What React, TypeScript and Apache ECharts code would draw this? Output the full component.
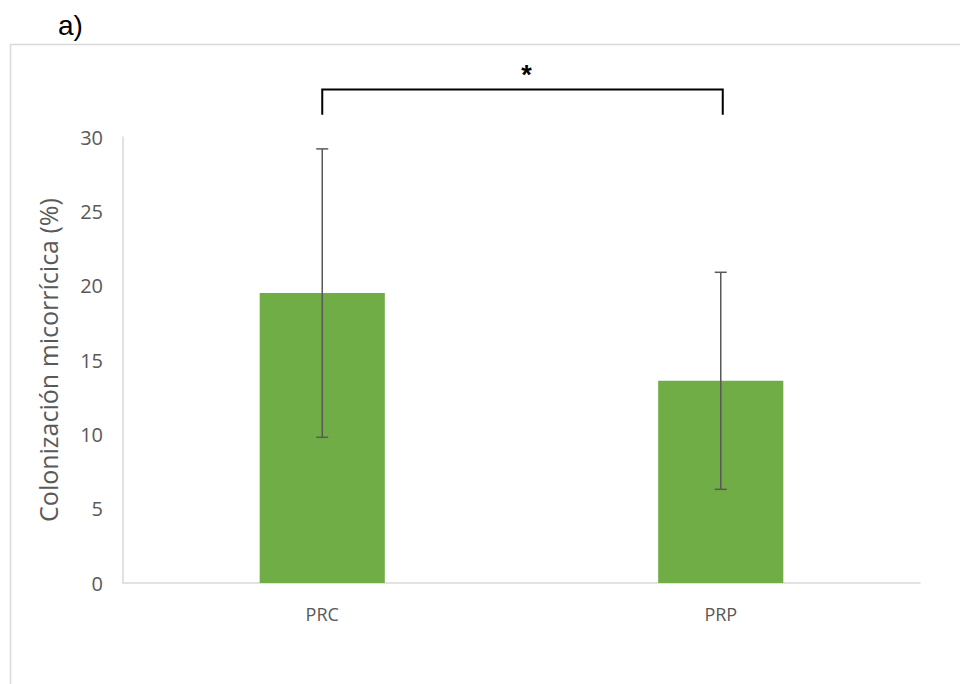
import React, { useEffect, useRef } from "react";
import * as echarts from "echarts";

const categories = ["PRC", "PRP"];
const means = [19.5, 13.6];
const errors = [9.7, 7.3];
const yTicks = { min: 0, max: 30, interval: 5 };
const bracketValues = { legBottom: 31.5, top: 33.2 };
const significance = "*";
const panelLabel = "a)";
const yTitle = "Colonización micorrícica (%)";

export default function App() {
  const ref = useRef<HTMLDivElement>(null);
  useEffect(() => {
    if (!ref.current) return;
    const chart = echarts.init(ref.current, undefined, { renderer: "svg" });
    const font = "'Open Sans', 'Noto Sans', sans-serif";
    chart.setOption({
      animation: false,
      backgroundColor: "#ffffff",
      grid: { left: 123, right: 40, top: 137, bottom: 101, containLabel: false },
      xAxis: {
        type: "category",
        data: categories,
        axisLine: { lineStyle: { color: "#d9d9d9", width: 1.5 } },
        axisTick: { show: false },
        axisLabel: { color: "#595959", fontSize: 18, fontFamily: font, margin: 22 },
      },
      yAxis: {
        type: "value",
        min: yTicks.min,
        max: yTicks.max,
        interval: yTicks.interval,
        axisLine: { show: true, lineStyle: { color: "#d9d9d9", width: 1.5 } },
        axisTick: { show: false },
        splitLine: { show: false },
        axisLabel: { color: "#595959", fontSize: 20, fontFamily: font, margin: 20 },
        name: yTitle,
        nameLocation: "middle",
        nameGap: 63,
        nameTextStyle: { color: "#595959", fontSize: 25, fontFamily: font },
      },
      graphic: [
        {
          type: "rect",
          shape: { x: 10.5, y: 44.5, width: 1000, height: 700 },
          style: { fill: "none", stroke: "#d9d9d9", lineWidth: 1.5 },
          z: -1,
        },
        {
          type: "text",
          x: 58,
          y: 11,
          style: { text: panelLabel, fontSize: 28, fontFamily: "'Liberation Sans', Arial, sans-serif", fill: "#000000" },
        },
      ],
      series: [
        {
          type: "bar",
          data: means,
          barWidth: "31.4%",
          itemStyle: { color: "#70ad47" },
        },
        {
          type: "custom",
          data: means.map((m, i) => [i, m - errors[i], m + errors[i]]),
          encode: { x: 0, y: [1, 2] },
          renderItem: (params: any, api: any) => {
            const x = api.value(0);
            const lo = api.coord([x, api.value(1)]);
            const hi = api.coord([x, api.value(2)]);
            const hw = 6;
            const style = { stroke: "#595959", lineWidth: 1.5 };
            return {
              type: "group",
              children: [
                { type: "line", shape: { x1: lo[0], y1: lo[1], x2: hi[0], y2: hi[1] }, style },
                { type: "line", shape: { x1: lo[0] - hw, y1: lo[1], x2: lo[0] + hw, y2: lo[1] }, style },
                { type: "line", shape: { x1: hi[0] - hw, y1: hi[1], x2: hi[0] + hw, y2: hi[1] }, style },
              ],
            };
          },
          z: 10,
        },
        {
          type: "custom",
          data: [[0, 1]],
          clip: false,
          renderItem: (params: any, api: any) => {
            const a = api.coord([0, bracketValues.legBottom]);
            const aTop = api.coord([0, bracketValues.top]);
            const b = api.coord([1, bracketValues.legBottom]);
            const style = { stroke: "#000000", lineWidth: 2, fill: "none" };
            return {
              type: "group",
              children: [
                {
                  type: "polyline",
                  shape: { points: [[a[0], a[1]], [a[0], aTop[1]], [b[0] + 2, aTop[1]], [b[0] + 2, b[1]]] },
                  style,
                },
                {
                  type: "text",
                  x: (a[0] + b[0]) / 2 + 5,
                  y: aTop[1] - 1,
                  style: {
                    text: significance,
                    fontSize: 27,
                    fontWeight: "bold",
                    fontFamily: "'Liberation Sans', Arial, sans-serif",
                    fill: "#000000",
                    align: "center",
                    verticalAlign: "bottom",
                  },
                },
              ],
            };
          },
        },
      ],
    });
    return () => chart.dispose();
  }, []);
  return (
    <div style={{ position: "fixed", left: 0, top: 0, width: 960, height: 684 }}>
      <div ref={ref} style={{ width: 960, height: 684 }} />
    </div>
  );
}
